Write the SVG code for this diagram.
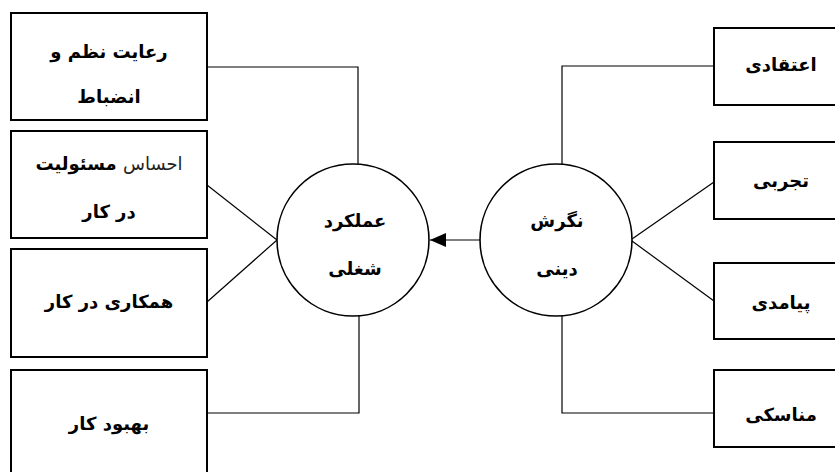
<svg xmlns="http://www.w3.org/2000/svg" width="835" height="472" viewBox="0 0 835 472">
<style>
.box{fill:#fff;stroke:#000;stroke-width:2}
.circ{fill:#fff;stroke:#000;stroke-width:1.6}
.con{fill:none;stroke:#000;stroke-width:1.2}
text{font-family:"DejaVu Sans",sans-serif;font-size:18px;font-weight:bold;text-anchor:middle;dominant-baseline:central;fill:#000}
.light{font-weight:normal;fill:#222}
</style>
<defs>
<marker id="ah" viewBox="0 0 16 14" refX="16" refY="7" markerWidth="16" markerHeight="14" markerUnits="userSpaceOnUse" orient="auto">
<path d="M0,0 L16,7 L0,14 Z" fill="#000"/>
</marker>
</defs>
<g id="connectors">
<polyline class="con" points="207,67 358,67 358,164"/>
<line class="con" x1="207" y1="185" x2="277" y2="240"/>
<line class="con" x1="207" y1="302" x2="277" y2="240"/>
<polyline class="con" points="207,413 359,413 359,316"/>
<polyline class="con" points="714,66 562,66 562,164"/>
<line class="con" x1="714" y1="182" x2="632" y2="239"/>
<line class="con" x1="714" y1="301" x2="632" y2="241"/>
<polyline class="con" points="714,413 562,413 562,316"/>
<line class="con" x1="480" y1="240" x2="430" y2="240" marker-end="url(#ah)" stroke-width="1.6"/>
</g>
<g id="n-discipline"><rect class="box" x="11" y="13" width="196" height="107"/><text x="109" y="51" direction="rtl">رعایت نظم و</text><text x="109" y="96" direction="rtl">انضباط</text></g>
<g id="n-responsibility"><rect class="box" x="11" y="131" width="196" height="107"/><text x="109" y="163" direction="rtl"><tspan class="light">احساس</tspan> مسئولیت</text><text x="109" y="211" direction="rtl">در کار</text></g>
<g id="n-cooperation"><rect class="box" x="11" y="249" width="196" height="108"/><text x="109" y="301" direction="rtl">همکاری در کار</text></g>
<g id="n-improvement"><rect class="box" x="11" y="370" width="196" height="110"/><text x="109" y="423" direction="rtl">بهبود کار</text></g>
<g id="n-performance"><circle class="circ" cx="353" cy="240" r="76"/><text x="355" y="220" direction="rtl">عملکرد</text><text x="355" y="268" direction="rtl">شغلی</text></g>
<g id="n-attitude"><circle class="circ" cx="556" cy="240" r="76"/><text x="557" y="220" direction="rtl">نگرش</text><text x="557" y="268" direction="rtl">دینی</text></g>
<g id="n-belief"><rect class="box" x="714" y="28" width="130" height="77"/><text x="781" y="64" direction="rtl">اعتقادی</text></g>
<g id="n-experience"><rect class="box" x="714" y="142" width="130" height="77"/><text x="781" y="180" direction="rtl">تجربی</text></g>
<g id="n-consequence"><rect class="box" x="714" y="263" width="130" height="76"/><text x="781" y="302" direction="rtl">پیامدی</text></g>
<g id="n-ritual"><rect class="box" x="714" y="370" width="130" height="77"/><text x="781" y="414" direction="rtl">مناسکی</text></g>
</svg>
